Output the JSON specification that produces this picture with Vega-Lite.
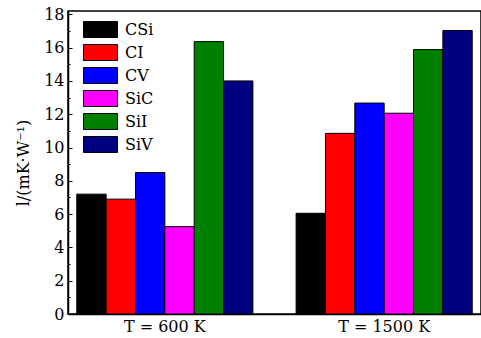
{
  "$schema": "https://vega.github.io/schema/vega-lite/v6.json",
  "autosize": "none",
  "padding": {"left": 68, "top": 11, "right": 0, "bottom": 24},
  "width": 413,
  "height": 303,
  "data": {"values": [
    {"temp": "T = 600 K", "defect": "CSi", "value": 7.2},
    {"temp": "T = 600 K", "defect": "CI", "value": 6.9},
    {"temp": "T = 600 K", "defect": "CV", "value": 8.5},
    {"temp": "T = 600 K", "defect": "SiC", "value": 5.25},
    {"temp": "T = 600 K", "defect": "SiI", "value": 16.36},
    {"temp": "T = 600 K", "defect": "SiV", "value": 14.0},
    {"temp": "T = 1500 K", "defect": "CSi", "value": 6.05},
    {"temp": "T = 1500 K", "defect": "CI", "value": 10.85},
    {"temp": "T = 1500 K", "defect": "CV", "value": 12.67},
    {"temp": "T = 1500 K", "defect": "SiC", "value": 12.06},
    {"temp": "T = 1500 K", "defect": "SiI", "value": 15.88},
    {"temp": "T = 1500 K", "defect": "SiV", "value": 17.03}
  ]},
  "config": {
    "view": {"stroke": "black", "strokeWidth": 1.5},
    "font": "DejaVu Serif",
    "axis": {
      "domainColor": "black", "domainWidth": 1.5, "tickColor": "black",
      "labelColor": "black", "labelFont": "DejaVu Serif", "labelFontSize": 16,
      "titleColor": "black", "titleFont": "DejaVu Serif", "titleFontWeight": "normal",
      "grid": false
    },
    "legend": {"labelFont": "DejaVu Serif", "labelFontSize": 16, "labelColor": "black"}
  },
  "mark": {"type": "bar", "stroke": "black", "strokeWidth": 1},
  "encoding": {
    "x": {
      "field": "temp", "type": "nominal", "sort": ["T = 600 K", "T = 1500 K"],
      "scale": {"paddingInner": 0.197, "paddingOuter": 0.04},
      "axis": {"title": null, "labelAngle": 0, "ticks": false, "labelPadding": 4}
    },
    "xOffset": {
      "field": "defect", "type": "nominal", "sort": ["CSi", "CI", "CV", "SiC", "SiI", "SiV"],
      "scale": {"paddingInner": 0, "paddingOuter": 0}
    },
    "y": {
      "field": "value", "type": "quantitative",
      "scale": {"domain": [0, 18.2], "nice": false},
      "axis": {
        "title": "l/(mK·W⁻¹)", "titleFontSize": 16, "titlePadding": 12,
        "values": [0,1,2,3,4,5,6,7,8,9,10,11,12,13,14,15,16,17,18],
        "labelExpr": "datum.value % 2 === 0 ? datum.label : ''",
        "tickSize": {"condition": {"test": "datum.value % 2 === 0", "value": -4}, "value": -2},
        "labelPadding": 8
      }
    },
    "fill": {
      "field": "defect", "type": "nominal", "sort": ["CSi", "CI", "CV", "SiC", "SiI", "SiV"],
      "scale": {"domain": ["CSi", "CI", "CV", "SiC", "SiI", "SiV"], "range": ["#000000", "#ff0000", "#0000ff", "#ff00ff", "#008000", "#000080"]},
      "legend": {
        "title": null, "orient": "none", "legendX": 24, "legendY": 10,
        "symbolType": "M-2.125,-1H2.125V1H-2.125Z", "symbolSize": 256,
        "symbolStrokeColor": "black", "symbolStrokeWidth": 1,
        "rowPadding": 2, "labelOffset": 16
      }
    }
  }
}
